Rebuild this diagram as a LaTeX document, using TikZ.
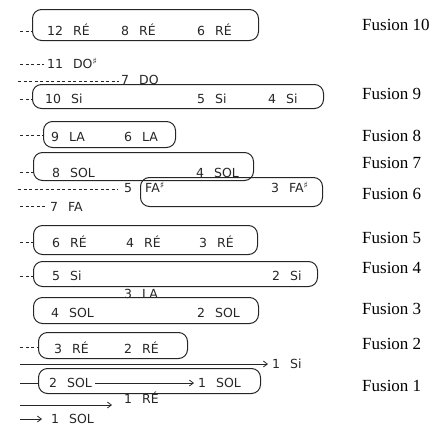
\documentclass[tikz,border=0pt]{standalone}
\usepackage{fontspec}
\setmainfont{Liberation Serif}
\newfontfamily\hand{DejaVu Sans}
\usetikzlibrary{arrows.meta}

\newcommand{\nt}[2]{#1\hspace{10pt}#2}
\newcommand{\shp}{\raisebox{3.5pt}{\fontsize{9}{9}\selectfont ♯}}
% a fusion box as a named node: name, west x, north y, width, height
\newcommand{\fusbox}[5]{\node[fbox,minimum width=#4pt,minimum height=#5pt,anchor=north west] (#1) at (#2,#3) {};}

\begin{document}
\begin{tikzpicture}[x=1pt,y=-1pt,
  ink/.style={draw=black!85,line width=1pt},
  fbox/.style={ink,rectangle,rounded corners=9pt,inner sep=0pt},
  note/.style={inner sep=0pt,anchor=base west,font=\hand\fontsize{12.5}{13}\selectfont,text=black!85},
  fus/.style={inner sep=0pt,anchor=base west,font=\fontsize{17}{18}\selectfont},
  lead/.style={ink,dash pattern=on 3pt off 2.5pt,line width=0.7pt},
  feed/.style={ink,line width=0.8pt},
  arr/.style={feed,-{Straight Barb[length=4pt,width=6pt]}}]
\useasboundingbox (0,0) rectangle (439,426);

% fusion boxes
\fusbox{b12}{32}{9}{226}{31}
\fusbox{b10}{32}{84}{291}{24}
\fusbox{b9}{43}{121}{132}{26}
\fusbox{b8}{33}{152}{220}{28}
\fusbox{bfa}{140}{177}{182}{29}
\fusbox{b6}{33}{225}{224}{29}
\fusbox{b5}{33}{261}{284}{25}
\fusbox{b4}{33}{297}{225}{26}
\fusbox{b3}{38}{332}{149}{26}
\fusbox{b2}{38}{368}{222}{25}

% notes (placed by baseline)
\node[note] (t12) at (47,35) {\nt{12}{RÉ}};
\node[note] at (121,35) {\nt{8}{RÉ}};
\node[note] at (197,35) {\nt{6}{RÉ}};
\node[note] (t11) at (47,68) {\nt{11}{DO\shp}};
\node[note] (t7do) at (121,84) {\nt{7}{DO}};
\node[note] at (45,103) {\nt{10}{Si}};
\node[note] at (197,103) {\nt{5}{Si}};
\node[note] at (268,103) {\nt{4}{Si}};
\node[note] at (51,141) {\nt{9}{LA}};
\node[note] at (124,141) {\nt{6}{LA}};
\node[note] at (52,177) {\nt{8}{SOL}};
\node[note] at (196,177) {\nt{4}{SOL}};
\node[note] (t5) at (124,192) {5};
\node[note] at (145,192) {FA\shp};
\node[note] at (271,192) {\nt{3}{FA\shp}};
\node[note] (t7fa) at (50,211) {\nt{7}{FA}};
\node[note] at (52,247) {\nt{6}{RÉ}};
\node[note] at (126,247) {\nt{4}{RÉ}};
\node[note] at (199,247) {\nt{3}{RÉ}};
\node[note] at (52,280) {\nt{5}{Si}};
\node[note] at (272,280) {\nt{2}{Si}};
\node[note] at (124,298) {\nt{3}{LA}};
\node[note] at (51,317) {\nt{4}{SOL}};
\node[note] at (197,317) {\nt{2}{SOL}};
\node[note] at (54,353) {\nt{3}{RÉ}};
\node[note] at (124,353) {\nt{2}{RÉ}};
\node[note] (t1si) at (272,368) {\nt{1}{Si}};
\node[note] (t2sol) at (49,387) {\nt{2}{SOL}};
\node[note] (t1sol) at (198,387) {\nt{1}{SOL}};
\node[note] (t1re) at (124,403) {\nt{1}{RÉ}};
\node[note] (t1solb) at (51,423) {\nt{1}{SOL}};

% free ends of the leads, on the left margin
\coordinate (d12) at (20,31);
\coordinate (d11) at (20,64);
\coordinate (d7do) at (18,81);
\coordinate (d10) at (20,99);
\coordinate (d9) at (20,135);
\coordinate (d8) at (20,172);
\coordinate (d5) at (18,189);
\coordinate (d7fa) at (20,206);
\coordinate (d6) at (20,242);
\coordinate (d5si) at (20,276);
\coordinate (d3) at (20,347);
\coordinate (d2) at (20,383);
\coordinate (a1si) at (20,364);
\coordinate (a1re) at (20,405);
\coordinate (a1sol) at (20,419);

% leading dashes
\draw[lead] (d12) -- (d12 -| b12.west);
\draw[lead,shorten >=3pt] (d11) -- (d11 -| t11.west);
\draw[lead,shorten >=2pt] (d7do) -- (d7do -| t7do.west);
\draw[lead] (d10) -- (d10 -| b10.west);
\draw[lead] (d9) -- (d9 -| b9.west);
\draw[lead] (d8) -- (d8 -| b8.west);
\draw[lead,shorten >=6pt] (d5) -- (d5 -| t5.west);
\draw[lead,shorten >=4pt] (d7fa) -- (d7fa -| t7fa.west);
\draw[lead] (d6) -- (d6 -| b6.west);
\draw[lead] (d5si) -- (d5si -| b5.west);
\draw[lead] (d3) -- (d3 -| b3.west);
\draw[feed] (d2) -- (d2 -| b2.west);

% arrows of the first fusion
\draw[arr,shorten >=4pt] (a1si) -- (a1si -| t1si.west);
\draw[arr,shorten <=3pt,shorten >=4pt] ([yshift=4pt]t2sol.base east) -- ([yshift=4pt]t2sol.base east -| t1sol.west);
\draw[arr,shorten >=12pt] (a1re) -- (a1re -| t1re.west);
\draw[arr,shorten >=9pt] (a1sol) -- (a1sol -| t1solb.west);

% fusion labels
\node[fus] (f10) at (362,30) {Fusion 10};
\node[fus] (f9) at (362,99) {Fusion 9};
\node[fus] (f8) at (362,141) {Fusion 8};
\node[fus] (f7) at (362,168) {Fusion 7};
\node[fus] (f6) at (362,199) {Fusion 6};
\node[fus] (f5) at (362,243) {Fusion 5};
\node[fus] (f4) at (362,273) {Fusion 4};
\node[fus] (f3) at (362,314) {Fusion 3};
\node[fus] (f2) at (362,349) {Fusion 2};
\node[fus] (f1) at (362,391) {Fusion 1};
\end{tikzpicture}
\end{document}
